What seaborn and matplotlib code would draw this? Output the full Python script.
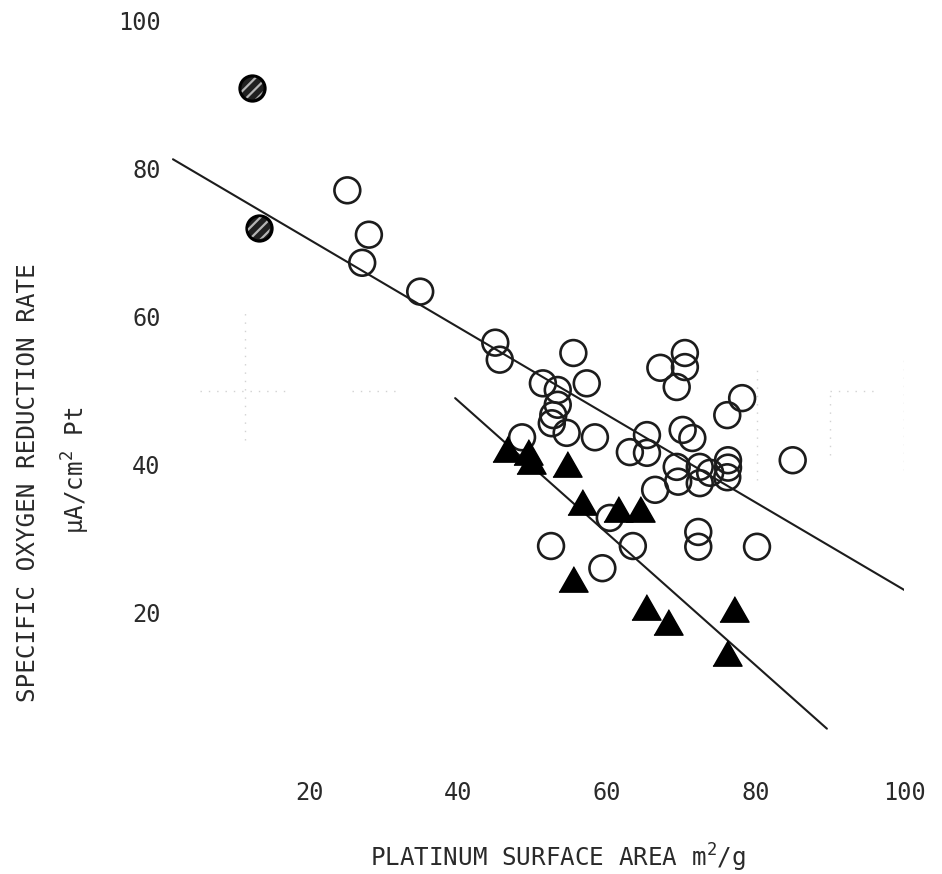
import matplotlib
matplotlib.use("Agg")
import matplotlib.pyplot as plt
import seaborn as sns
import pandas as pd

# Platinum surface area (m2/g) and specific O2 reduction rate (uA/cm2 Pt)
circle_area = [25.1, 28.0, 27.1, 34.9,
               45.0, 45.6, 55.5, 57.3, 51.4, 53.4, 53.4, 52.8, 52.6, 54.6, 58.4, 48.6,
               70.5, 67.2, 70.5, 69.4, 78.2, 76.2, 70.2, 71.5, 65.4, 63.1, 65.4,
               69.4, 69.6, 72.5, 72.5, 73.9, 76.3, 76.3, 76.2, 66.5, 85.0,
               60.4, 52.5, 59.4, 63.5, 72.3, 72.3, 80.2]
circle_rate = [77.1, 71.1, 67.3, 63.4,
               56.5, 54.2, 55.1, 51.0, 51.0, 50.1, 48.1, 46.7, 45.6, 44.3, 43.7, 43.7,
               55.1, 53.1, 53.2, 50.5, 49.0, 46.7, 44.7, 43.6, 44.0, 41.7, 41.6,
               39.7, 37.7, 39.7, 37.5, 38.9, 40.6, 39.6, 38.3, 36.6, 40.6,
               32.8, 29.0, 26.0, 29.0, 30.9, 28.9, 28.9]

triangle_area = [46.6, 49.4, 49.8, 54.6, 56.7, 61.5, 64.5, 55.5, 65.3, 68.2, 77.1, 76.2]
triangle_rate = [42.0, 41.6, 40.4, 40.0, 34.8, 33.9, 33.9, 24.4, 20.6, 18.6, 20.4, 14.4]

hatched_area = [12.3, 13.2]
hatched_rate = [90.9, 72.0]

# Fitted trend lines (end points)
upper_fit_area = [1.65, 100.1]
upper_fit_rate = [81.3, 23.0]
lower_fit_area = [39.6, 89.6]
lower_fit_rate = [49.0, 4.3]

x_ticks = [20, 40, 60, 80, 100]
y_ticks = [20, 40, 60, 80, 100]

sns.set_theme(style="white")
plt.rcParams["font.family"] = ["DejaVu Sans Mono", "DejaVu Sans"]
plt.rcParams["hatch.linewidth"] = 1.6

INK = "#1c1c1c"
TEXT = "#2a2a2a"

fig = plt.figure(figsize=(9.42, 8.74), dpi=100)
ax = fig.add_axes([0.1706, 0.1299, 0.7893, 0.8461])
ax.set_xlim(0, 100)
ax.set_ylim(0, 100)

# faint remnants of the graph-paper grid
grid_kw = dict(color="#d2d2d2", lw=1.0, ls=(0, (1, 5)), zorder=0)
ax.axhline(50, 0.053, 0.174, **grid_kw)
ax.axhline(50, 0.257, 0.318, **grid_kw)
ax.axhline(50, 0.90, 0.96, **grid_kw)
ax.axvline(11.3, 0.433, 0.609, **grid_kw)
ax.axvline(80.2, 0.379, 0.528, **grid_kw)
ax.axvline(90.0, 0.413, 0.501, **grid_kw)
ax.axvline(100.0, 0.393, 0.542, **grid_kw)

lines = pd.DataFrame({
    "area": upper_fit_area + lower_fit_area,
    "rate": upper_fit_rate + lower_fit_rate,
    "fit": ["upper"] * 2 + ["lower"] * 2,
})
sns.lineplot(data=lines, x="area", y="rate", units="fit", estimator=None,
             color=INK, lw=1.5, sort=False, ax=ax, zorder=2)

circles = pd.DataFrame({"area": circle_area, "rate": circle_rate})
sns.scatterplot(data=circles, x="area", y="rate", marker="o", s=345,
                facecolor="none", edgecolor=INK, linewidth=1.9, ax=ax, zorder=3)

tri_marker = [(-1.0, -0.8), (1.0, -0.8), (0.0, 0.95)]
triangles = pd.DataFrame({"area": triangle_area, "rate": triangle_rate})
sns.scatterplot(data=triangles, x="area", y="rate", marker=tri_marker, s=440,
                color="black", edgecolor="black", linewidth=1.0, ax=ax, zorder=4)

hatched = pd.DataFrame({"area": hatched_area, "rate": hatched_rate})
sns.scatterplot(data=hatched, x="area", y="rate", marker="o", s=330,
                color="#202020", edgecolor="black", linewidth=2.2, ax=ax, zorder=4)
sns.scatterplot(data=hatched, x="area", y="rate", marker="o", s=250,
                facecolor="none", edgecolor="#b5b5b5", linewidth=0, hatch="///",
                ax=ax, zorder=5)

for side in ax.spines.values():
    side.set_visible(False)
ax.grid(False)
ax.set_xticks(x_ticks)
ax.set_yticks(y_ticks)
ax.set_xticklabels([str(v) for v in x_ticks])
ax.set_yticklabels([str(v) for v in y_ticks])
ax.tick_params(axis="x", length=0, pad=15, labelsize=17, labelcolor=TEXT)
ax.tick_params(axis="y", length=0, pad=0, labelsize=17, labelcolor=TEXT)
ax.set_xlabel("")
ax.set_ylabel("")

fig.text(558 / 942, 1 - 858 / 874, r"PLATINUM SURFACE AREA m$^{\mathregular{2}}$/g",
         ha="center", va="center", fontsize=17.5, color=TEXT)
fig.text(28 / 942, 1 - 483 / 874, "SPECIFIC OXYGEN REDUCTION RATE",
         ha="center", va="center", rotation=90, fontsize=17.5, color=TEXT)
fig.text(76 / 942, 1 - 470 / 874, r"μA/cm$^{\mathregular{2}}$ Pt",
         ha="center", va="center", rotation=90, fontsize=17.5, color=TEXT)

fig.savefig("out.png", dpi=100)
